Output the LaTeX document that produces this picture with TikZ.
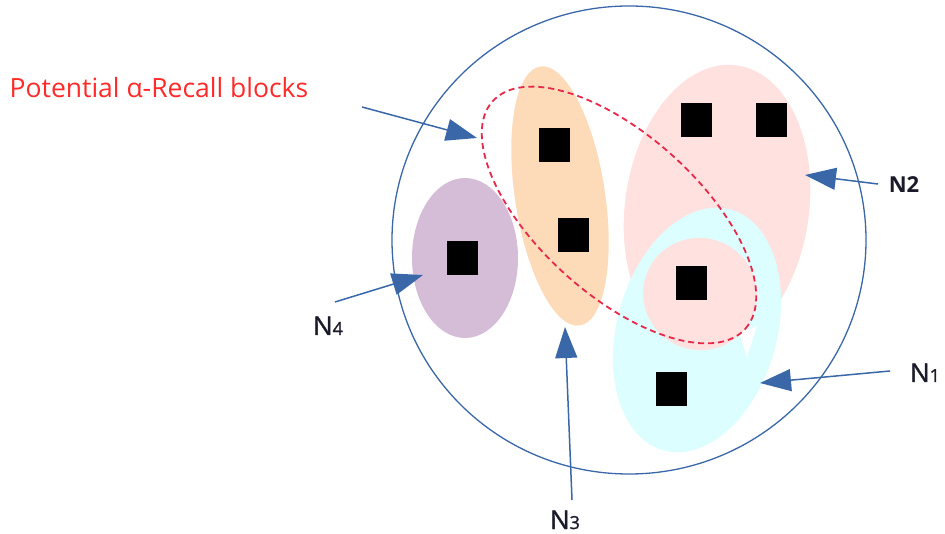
\documentclass[tikz,border=0pt]{standalone}
\usepackage{fontspec}
\setmainfont{Open Sans}
\newfontfamily\lblfont[FakeBold=1.2]{Open Sans}
\usetikzlibrary{arrows.meta}
\definecolor{arrowblue}{HTML}{3A67A8}
\definecolor{redtxt}{HTML}{FF2A2A}
\definecolor{dashred}{HTML}{E8284A}
\definecolor{purplefill}{HTML}{D6BDD7}
\definecolor{orangefill}{HTML}{FDDAB8}
\definecolor{pinkfill}{HTML}{FFE1DF}
\definecolor{cyanfill}{HTML}{DDFEFF}
\definecolor{lbltxt}{HTML}{1A1A2A}
\tikzset{
  blk/.style={fill=black, draw=none, minimum width=31pt, minimum height=34pt, inner sep=0pt},
  ptr/.style={draw=arrowblue, line width=1.5pt, -{Triangle[length=31pt,width=22pt]}, fill=arrowblue},
  lbl/.style={font=\lblfont\fontsize{26}{28}\selectfont, text=lbltxt, inner sep=0pt, text depth=0pt, anchor=base},
}
\newcommand{\subdig}[1]{{\fontsize{18}{20}\selectfont #1}}
\begin{document}
\begin{tikzpicture}[x=1pt,y=-1pt]
\useasboundingbox (0,0) rectangle (945,534);
% big circle
\draw[arrowblue, line width=1.3pt] (629,240) ellipse (237pt and 234pt);
% sets
\fill[purplefill] (465,258) ellipse (53pt and 80pt);
\fill[orangefill, rotate around={8.7:(560,196)}] (560,196) ellipse (45pt and 131pt);
\fill[pinkfill, rotate around={-8:(717,208)}] (717,208) ellipse (92pt and 144pt);
\fill[cyanfill, rotate around={-15.6:(697,330)}] (697,330) ellipse (80pt and 125pt);
\fill[white] (739,333) -- (757,326) -- (747,357) -- cycle;
\fill[pinkfill, rotate around={-20:(700,294)}] (700,294) ellipse (57pt and 56pt);
% dashed region
\draw[dashred, line width=1.8pt, dash pattern=on 6pt off 4pt, rotate around={-42:(619,215)}] (619,215) ellipse (170pt and 80pt);
% blocks
\node[blk] (b1) at (554,145) {};
\node[blk] (b2) at (573,235) {};
\node[blk] (b3) at (462,258) {};
\node[blk] (b4) at (696,120) {};
\node[blk] (b5) at (771,120) {};
\node[blk] (b6) at (691,283) {};
\node[blk] (b7) at (671,389) {};
% labels
\node[text=redtxt, font=\fontsize{26.5}{28}\selectfont, inner sep=0pt] (pot) at (159,88) {Potential α-Recall blocks};
\node[lbl] (n4) at (328,335) {N\subdig{4}};
\node[lbl] (n3) at (565,529) {N\subdig{3}};
\node[lbl] (n1) at (925,382) {N\subdig{1}};
\node[lbl, font=\fontsize{22}{24}\selectfont\bfseries] (n2) at (904,193) {N2};
% arrow anchor points
\coordinate (ps) at (362,107);
\coordinate (pt) at (477,138);
\coordinate (n4s) at (335,302);
\coordinate (n4t) at (423,275);
\coordinate (n3s) at (572,500);
\coordinate (n3t) at (565,327);
\coordinate (n1s) at (890,371);
\coordinate (n1t) at (760,383);
\coordinate (n2s) at (878,184);
\coordinate (n2t) at (805,175);
\draw[ptr] (ps) -- (pt);
\draw[ptr] (n4s) -- (n4t);
\draw[ptr] (n3s) -- (n3t);
\draw[ptr] (n1s) -- (n1t);
\draw[ptr] (n2s) -- (n2t);
\end{tikzpicture}
\end{document}
